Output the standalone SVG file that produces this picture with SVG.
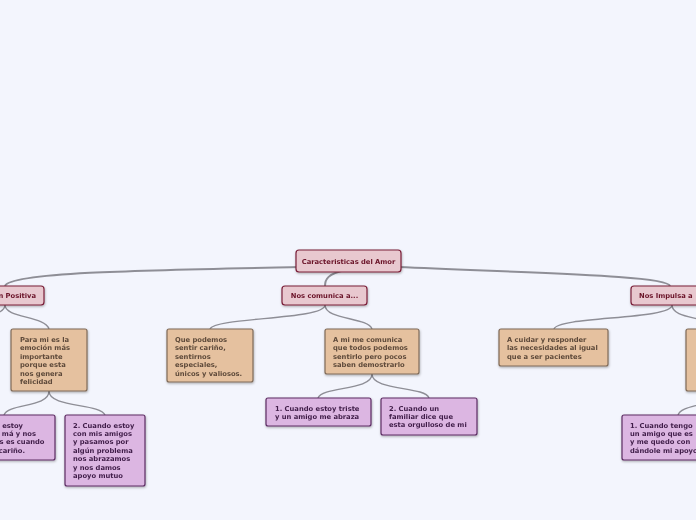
<svg xmlns="http://www.w3.org/2000/svg" width="696" height="520" viewBox="0 0 696 520">
<defs>
<filter id="sh" x="-10%" y="-10%" width="130%" height="140%">
<feDropShadow dx="0.5" dy="1.2" stdDeviation="0.8" flood-color="#000" flood-opacity="0.3"/>
</filter>
<style>
text{font-family:"DejaVu Sans",Verdana,sans-serif;font-weight:bold;font-size:6.75px}
.pk rect{fill:#e8c8cf;stroke:#7a1f38;stroke-width:1.2}
.pk text{fill:#6a1228}
.tn rect{fill:#e5c19f;stroke:#7f6a58;stroke-width:1.2}
.tn text{fill:#5e4a3a}
.pu rect{fill:#dcb6e2;stroke:#5c2c63;stroke-width:1.2}
.pu text{fill:#3f1d48}
.c path{fill:none;stroke:#8e8e96;stroke-width:1.4}
.c .m{stroke-width:2}
</style>
</defs>
<rect width="696" height="520" fill="#f3f5fd"/>
<g id="connectors" class="c">
<path class="m" d="M300 267 C150 270,10 272,5 286"/>
<path class="m" d="M398 267 C560 274,668 276,670 286"/>
<path class="m" d="M345 270 C328 274,325 279,325 286"/>
<path d="M5 305 C5 318,45 316,49 329"/>
<path d="M5 305 C5 318,-35 316,-40 329"/>
<path d="M325 305 C325 320,215 317,210 329"/>
<path d="M325 305 C325 320,368 317,372 329"/>
<path d="M672 305 C672 320,558 316,554 329"/>
<path d="M672 305 C672 320,712 316,716 329"/>
<path d="M49 391 C49 408,8 403,4 415"/>
<path d="M49 391 C49 408,100 403,105 415"/>
<path d="M372 374 C372 391,322 386,318 398"/>
<path d="M372 374 C372 391,425 386,429 398"/>
<path d="M716 391 C716 408,682 403,678 415"/>
</g>
<g id="root" class="pk" filter="url(#sh)"><rect x="296" y="250" width="105" height="22" rx="3"/><text x="348.5" y="263.5" text-anchor="middle">Caracteristicas del Amor</text></g>
<g id="n-positiva" class="pk" filter="url(#sh)"><rect x="-40" y="286" width="84" height="19" rx="3"/><text x="36" y="298" text-anchor="end">n Positiva</text></g>
<g id="n-comunica" class="pk" filter="url(#sh)"><rect x="282" y="286" width="85" height="19" rx="3"/><text x="324.5" y="298" text-anchor="middle">Nos comunica a...</text></g>
<g id="n-impulsa" class="pk" filter="url(#sh)"><rect x="631" y="286" width="80" height="19" rx="3"/><text x="639" y="298">Nos Impulsa a</text></g>
<g id="n-para" class="tn" filter="url(#sh)"><rect x="11" y="329" width="76" height="62" rx="2"/><text x="20" y="342">Para mi es la<tspan x="20" dy="8.4">emoción más</tspan><tspan x="20" dy="8.4">importante</tspan><tspan x="20" dy="8.4">porque esta</tspan><tspan x="20" dy="8.4">nos genera</tspan><tspan x="20" dy="8.4">felicidad</tspan></text></g>
<g id="n-que" class="tn" filter="url(#sh)"><rect x="167" y="329" width="86" height="53" rx="2"/><text x="175" y="342">Que podemos<tspan x="175" dy="8.4">sentir cariño,</tspan><tspan x="175" dy="8.4">sentirnos</tspan><tspan x="175" dy="8.4">especiales,</tspan><tspan x="175" dy="8.4">únicos y valiosos.</tspan></text></g>
<g id="n-ami" class="tn" filter="url(#sh)"><rect x="325" y="329" width="94" height="45" rx="2"/><text x="333" y="342">A mi me comunica<tspan x="333" dy="8.4">que todos podemos</tspan><tspan x="333" dy="8.4">sentirlo pero pocos</tspan><tspan x="333" dy="8.4">saben demostrarlo</tspan></text></g>
<g id="n-cuidar" class="tn" filter="url(#sh)"><rect x="499" y="329" width="109" height="37" rx="2"/><text x="507" y="342">A cuidar y responder<tspan x="507" dy="8.4">las necesidades al igual</tspan><tspan x="507" dy="8.4">que a ser pacientes</tspan></text></g>
<g id="n-right2" class="tn" filter="url(#sh)"><rect x="686" y="329" width="60" height="62" rx="2"/></g>
<g id="n-l3a" class="pu" filter="url(#sh)"><rect x="-50" y="415" width="105" height="45" rx="2"/><text x="23" y="427.5" text-anchor="end">estoy</text><text x="36" y="435.9" text-anchor="end">má y nos</text><text x="44.5" y="444.3" text-anchor="end">s es cuando</text><text x="25" y="452.7" text-anchor="end">cariño.</text></g>
<g id="n-l3b" class="pu" filter="url(#sh)"><rect x="65" y="415" width="80" height="71" rx="2"/><text x="73" y="427.5">2. Cuando estoy<tspan x="73" dy="8.4">con mis amigos</tspan><tspan x="73" dy="8.4">y pasamos por</tspan><tspan x="73" dy="8.4">algún problema</tspan><tspan x="73" dy="8.4">nos abrazamos</tspan><tspan x="73" dy="8.4">y nos damos</tspan><tspan x="73" dy="8.4">apoyo mutuo</tspan></text></g>
<g id="n-triste" class="pu" filter="url(#sh)"><rect x="266" y="398" width="105" height="28" rx="2"/><text x="275" y="410.5">1. Cuando estoy triste<tspan x="275" dy="8.4">y un amigo me abraza</tspan></text></g>
<g id="n-familiar" class="pu" filter="url(#sh)"><rect x="381" y="398" width="96" height="37" rx="2"/><text x="389" y="410.5">2. Cuando un<tspan x="389" dy="8.4">familiar dice que</tspan><tspan x="389" dy="8.4">esta orgulloso de mi</tspan></text></g>
<g id="n-tengo" class="pu" filter="url(#sh)"><rect x="622" y="415" width="110" height="45" rx="2"/><text x="630" y="427.5">1. Cuando tengo<tspan x="630" dy="8.4">un amigo que es</tspan><tspan x="630" dy="8.4">y me quedo con</tspan><tspan x="630" dy="8.4">dándole mi apoyo</tspan></text></g>
</svg>
